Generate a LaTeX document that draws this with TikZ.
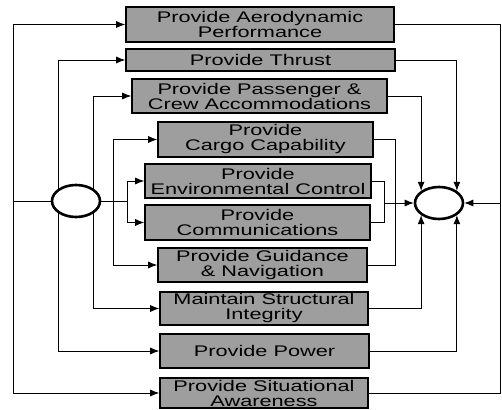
\documentclass[tikz,border=0pt]{standalone}
\usepackage{fontspec}
\newfontfamily\boxfont{Liberation Sans}[FakeStretch=1.41]
\usetikzlibrary{arrows.meta}
\usetikzlibrary{shapes.geometric}

\begin{document}
\begin{tikzpicture}[x = 1pt, y = -1pt,
	fbox/.style 2 args = {draw = black, line width = 1.6pt, fill = black!38, minimum width = #1, minimum height = #2, inner sep = 0pt, align = center, font = \boxfont\fontsize{15.4}{15}\selectfont},
	hub/.style = {draw = black, ellipse, line width = 2.6pt, minimum width = 48pt, minimum height = 32pt, inner sep = 0pt},
	flow/.style = {black, line width = 0.8pt, -{Latex[length = 9pt, width = 7pt]}},
	wire/.style = {black, line width = 0.8pt}]
	\useasboundingbox (0, 0) rectangle (502, 409);
	% functions
	\node (aero) at (260, 24.5) [fbox = {268pt}{35pt}] {Provide Aerodynamic\\Performance};
	\node (thrust) at (260.5, 60) [fbox = {269pt}{22pt}] {Provide Thrust};
	\node (pass) at (259.5, 96) [fbox = {255pt}{34pt}] {Provide Passenger \&\\Crew Accommodations};
	\node (cargo) at (265.5, 139.5) [fbox = {215pt}{35pt}] {Provide\\Cargo Capability};
	\node (env) at (258, 181) [fbox = {226pt}{34pt}] {Provide\\Environmental Control};
	\node (comm) at (257.5, 222.5) [fbox = {225pt}{35pt}] {Provide\\Communications};
	\node (guid) at (262.5, 265) [fbox = {209pt}{34pt}] {Provide Guidance\\\& Navigation};
	\node (struct) at (264, 308.5) [fbox = {208pt}{33pt}] {Maintain Structural\\Integrity};
	\node (power) at (264.5, 351) [fbox = {209pt}{34pt}] {Provide Power};
	\node (aware) at (264, 393) [fbox = {208pt}{30pt}] {Provide Situational\\Awareness};
	% split and join
	\node (src) at (76, 201) [hub] {};
	\node (sink) at (439, 203) [hub] {};
	\coordinate (l1) at (13, 201);
	\coordinate (l3) at (113, 201);
	\coordinate (l4) at (127, 201);
	\coordinate (r1) at (500, 203);
	\coordinate (r3) at (395, 203);
	\coordinate (r4) at (384, 203);
	% left side
	\draw[wire] (src.west) -- (l1);
	\draw[flow] (l1) |- (aero.west);
	\draw[flow] (l1) |- (aware.west);
	\draw[flow] (src.north west) |- (thrust.west);
	\draw[flow] (src.south west) |- (power.west);
	\draw[flow] (src.north east) |- (pass.west);
	\draw[flow] (src.south east) |- (struct.west);
	\draw[wire] (src.east) -- (l4);
	\draw[flow] (l3) |- (cargo.west);
	\draw[flow] (l3) |- (guid.west);
	\draw[flow] (l4) |- (env.west);
	\draw[flow] (l4) |- (comm.west);
	% right side
	\draw[wire] (aero.east) -| (r1);
	\draw[wire] (aware.east) -| (r1);
	\draw[flow] (r1) -- (sink.east);
	\draw[flow] (thrust.east) -| (sink.north east);
	\draw[flow] (pass.east) -| (sink.north west);
	\draw[flow] (struct.east) -| (sink.south west);
	\draw[flow] (power.east) -| (sink.south east);
	\draw[wire] (cargo.east) -| (r3);
	\draw[wire] (guid.east) -| (r3);
	\draw[wire] (env.east) -| (r4);
	\draw[wire] (comm.east) -| (r4);
	\draw[flow] (r4) -- (sink.west);
\end{tikzpicture}
\end{document}
